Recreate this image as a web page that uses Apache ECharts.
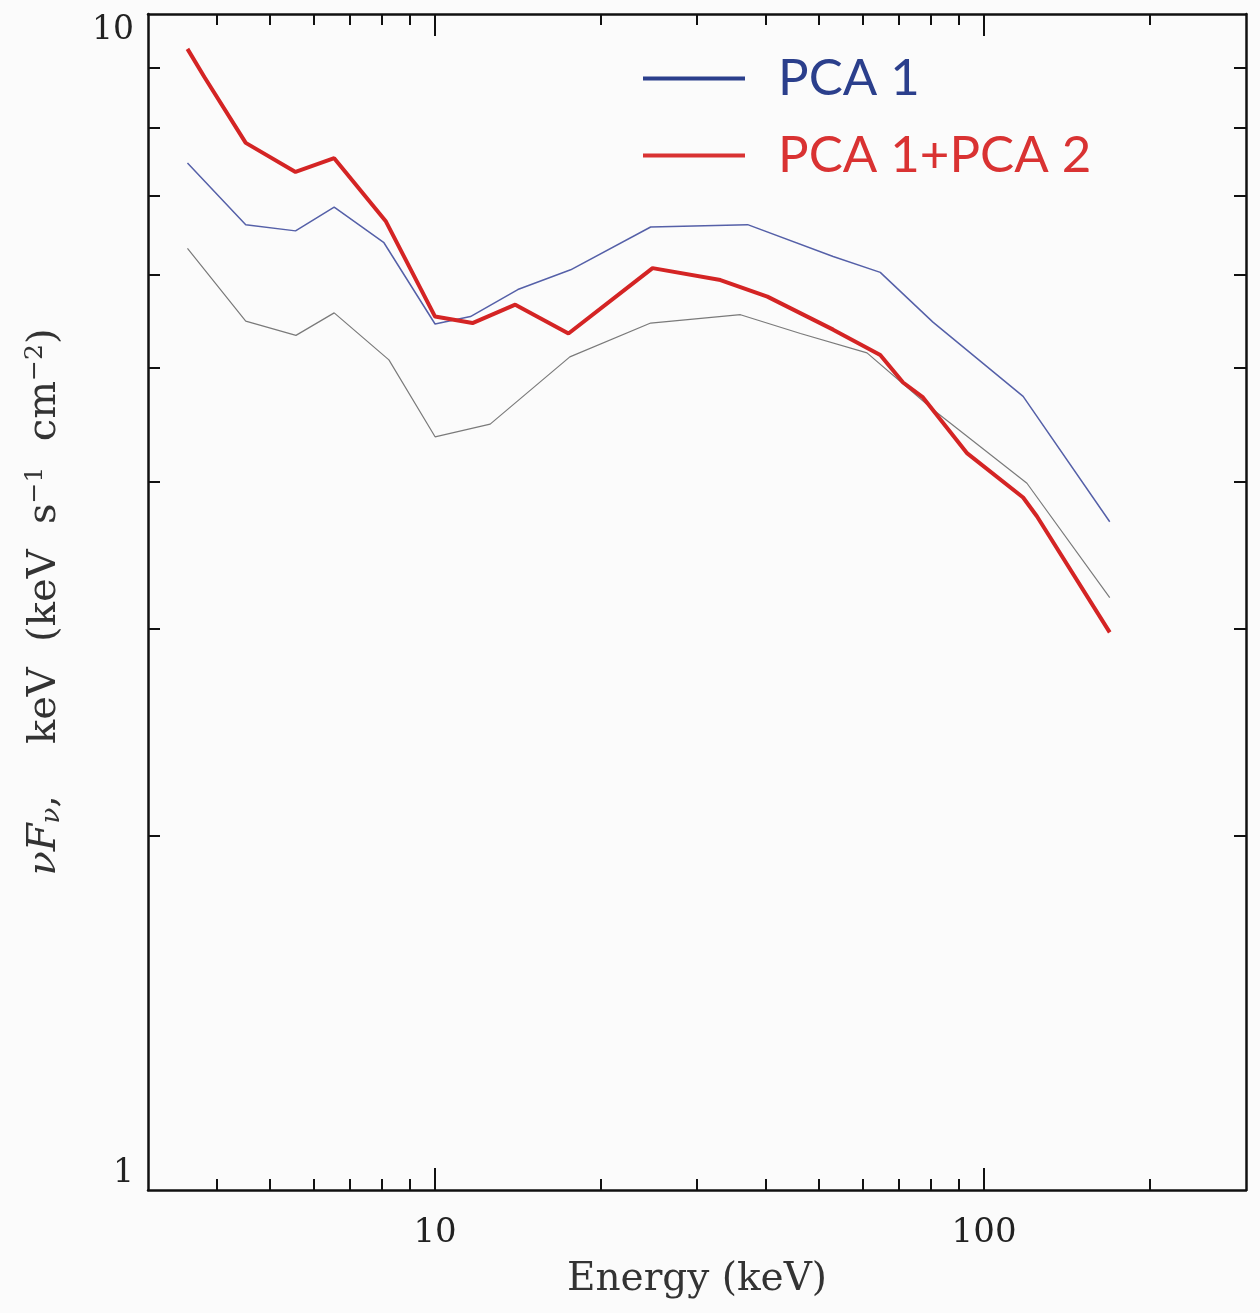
<!DOCTYPE html>
<html>
<head>
<meta charset="utf-8">
<script src="https://cdn.jsdelivr.net/npm/echarts@6/dist/echarts.min.js"></script>
<style>
  html, body { margin: 0; padding: 0; background: #fbfbfb; }
  #chart { width: 1260px; height: 1313px; }
</style>
</head>
<body>
<div id="chart"></div>
<script>
// spectrum values (energy in keV, flux in keV s^-1 cm^-2)
const pca1Energy = [3.54, 4.52, 5.57, 6.55, 8.07, 10.0, 11.6, 14.15, 17.66, 24.7, 37.1, 53.1, 64.7, 80.7, 117.8, 169.4]
const pca1Flux = [7.47, 6.62, 6.54, 6.85, 6.39, 5.45, 5.53, 5.83, 6.06, 6.59, 6.62, 6.22, 6.03, 5.47, 4.73, 3.70]

const pca12Energy = [3.54, 3.80, 4.52, 5.57, 6.55, 8.14, 10.0, 11.7, 14.0, 17.5, 24.9, 33.1, 40.3, 53.1, 64.7, 71.2, 77.4, 93.2, 117.8, 124.8, 169.4]
const pca12Flux = [9.34, 8.84, 7.77, 7.34, 7.54, 6.66, 5.53, 5.46, 5.66, 5.35, 6.08, 5.94, 5.75, 5.39, 5.13, 4.86, 4.72, 4.23, 3.88, 3.74, 2.98]

const otherEnergy = [3.54, 4.52, 5.58, 6.55, 8.24, 10.0, 12.6, 17.6, 24.7, 36.0, 46.3, 61.2, 80.7, 119.7, 169.4]
const otherFlux = [6.32, 5.48, 5.33, 5.57, 5.08, 4.37, 4.48, 5.11, 5.46, 5.55, 5.35, 5.15, 4.61, 3.99, 3.19]

// axis ticks
const xMajorTicks = [10, 100]
const xMinorTicks = [4, 5, 6, 7, 8, 9, 20, 30, 40, 50, 60, 70, 80, 90, 200]
const yLabels = [1, 10]
const yMinorTicks = [2, 3, 4, 5, 6, 7, 8, 9]

const pairs = (xs, ys) => xs.map((x, i) => [x, ys[i]])

const serif = 'DejaVu Serif'
const axisLine = { show: true, onZero: false, lineStyle: { color: '#111', width: 2.5 } }

const xAxisBase = (position, ticks, len, withLine) => ({
  type: 'log',
  logBase: 10,
  min: 3,
  max: 300,
  position: position,
  axisLine: withLine ? axisLine : { show: false },
  axisTick: { show: true, inside: true, length: len, customValues: ticks, lineStyle: { color: '#111', width: 2 } },
  axisLabel: { show: false },
  splitLine: { show: false }
})

const chart = echarts.init(document.getElementById('chart'))

const option = {
  backgroundColor: '#fbfbfb',
  animation: false,
  grid: { left: 148, right: 14, top: 14, bottom: 123 },
  legend: {
    orient: 'vertical',
    left: 643,
    top: 50,
    padding: 0,
    icon: 'rect',
    itemWidth: 102,
    itemHeight: 4,
    itemGap: 20,
    textStyle: { fontFamily: 'Lato', fontSize: 51, lineHeight: 57, padding: [0, 0, 0, 28] },
    data: [
      { name: 'PCA 1', itemStyle: { color: '#2b3f8c' }, textStyle: { color: '#2b3f8c' } },
      { name: 'PCA 1+PCA 2', itemStyle: { color: '#d93232' }, textStyle: { color: '#d93232' } }
    ]
  },
  xAxis: [
    Object.assign(xAxisBase('bottom', xMajorTicks, 22, true), {
      axisLabel: {
        show: true,
        customValues: xMajorTicks,
        margin: 26,
        fontFamily: serif,
        fontSize: 34,
        color: '#222'
      },
      name: 'Energy (keV)',
      nameLocation: 'middle',
      nameGap: 70,
      nameTextStyle: { fontFamily: serif, fontSize: 39, color: '#333' }
    }),
    xAxisBase('bottom', xMinorTicks, 11, false),
    xAxisBase('top', xMajorTicks, 22, true),
    xAxisBase('top', xMinorTicks, 11, false)
  ],
  yAxis: [
    {
      type: 'log',
      logBase: 10,
      min: 1,
      max: 10,
      position: 'left',
      axisLine: axisLine,
      axisTick: { show: true, inside: true, length: 12, customValues: yMinorTicks, lineStyle: { color: '#111', width: 2 } },
      axisLabel: {
        show: true,
        customValues: yLabels,
        margin: 14,
        fontFamily: serif,
        fontSize: 33,
        color: '#222',
        verticalAlignMinLabel: 'bottom',
        verticalAlignMaxLabel: 'top'
      },
      splitLine: { show: false },
      name: '{i|νF}{s|ν}{t|,    keV  (keV  s}{p|−1}{t|  cm}{p|−2}{t|)}',
      nameLocation: 'middle',
      nameRotate: 90,
      nameGap: 82,
      nameTextStyle: {
        color: '#333',
        rich: {
          i: { fontFamily: serif, fontStyle: 'italic', fontSize: 40, color: '#333' },
          s: { fontFamily: serif, fontStyle: 'italic', fontSize: 26, color: '#333', padding: [16, 0, 0, 0] },
          t: { fontFamily: serif, fontSize: 40, color: '#333' },
          p: { fontFamily: serif, fontSize: 25, color: '#333', padding: [0, 0, 18, 0] }
        }
      }
    },
    {
      type: 'log',
      logBase: 10,
      min: 1,
      max: 10,
      position: 'right',
      axisLine: axisLine,
      axisTick: { show: true, inside: true, length: 12, customValues: yMinorTicks, lineStyle: { color: '#111', width: 2 } },
      axisLabel: { show: false },
      splitLine: { show: false }
    }
  ],
  series: [
    {
      name: 'other',
      type: 'line',
      data: pairs(otherEnergy, otherFlux),
      showSymbol: false,
      symbol: 'none',
      lineStyle: { color: '#7a7a7a', width: 1.2 },
      z: 2
    },
    {
      name: 'PCA 1',
      type: 'line',
      data: pairs(pca1Energy, pca1Flux),
      showSymbol: false,
      symbol: 'none',
      lineStyle: { color: '#5560a8', width: 1.5 },
      itemStyle: { color: '#2b3f8c' },
      z: 3
    },
    {
      name: 'PCA 1+PCA 2',
      type: 'line',
      data: pairs(pca12Energy, pca12Flux),
      showSymbol: false,
      symbol: 'none',
      lineStyle: { color: '#d42424', width: 4 },
      itemStyle: { color: '#d93232' },
      z: 4
    }
  ]
}

chart.setOption(option)

window.addEventListener('resize', () => {
  chart.resize()
})
</script>
</body>
</html>
